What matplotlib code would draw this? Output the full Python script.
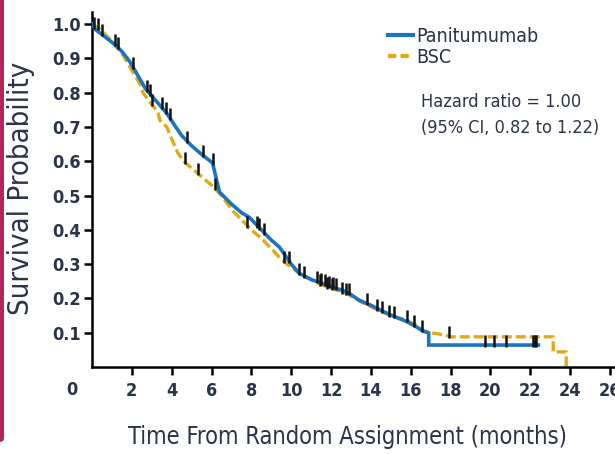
import numpy as np
import matplotlib
matplotlib.use("Agg")
import matplotlib.pyplot as plt
from matplotlib import font_manager
from matplotlib.font_manager import FontProperties
from matplotlib.lines import Line2D
from matplotlib.patches import FancyBboxPatch

# Kaplan-Meier curves (time in months, survival)
pani_t = [0.0, 0.15, 0.6, 1.15, 1.5, 1.9, 2.3, 2.7, 3.3, 3.75, 4.2, 4.5, 5.0, 5.5, 6.05,
          6.4, 7.0, 7.5, 7.9, 8.5, 9.0, 9.4, 10.0, 10.4, 11.0, 11.5, 12.05, 12.5, 12.9,
          13.4, 14.0, 14.5, 15.25, 15.7, 16.2, 16.6, 16.9, 16.9, 22.4]
pani_s = [1.0, 0.985, 0.965, 0.94, 0.92, 0.89, 0.85, 0.81, 0.77, 0.74, 0.70, 0.675, 0.645,
          0.62, 0.595, 0.51, 0.475, 0.45, 0.436, 0.40, 0.37, 0.35, 0.30, 0.273, 0.255,
          0.245, 0.233, 0.225, 0.215, 0.195, 0.18, 0.165, 0.145, 0.135, 0.12, 0.105,
          0.099, 0.064, 0.064]

bsc_t = [0.0, 0.4, 1.0, 1.55, 2.0, 2.4, 2.55, 3.0, 3.3, 3.4, 3.75, 4.0, 4.3, 4.6, 5.0,
         5.4, 6.0, 6.5, 7.05, 7.5, 8.0, 8.5, 9.0, 9.4, 10.0, 10.5, 11.0, 11.5, 12.0,
         12.75, 13.5, 14.4, 15.0, 15.75, 16.2, 16.55, 17.0, 17.75, 18.0, 23.15, 23.15,
         23.8, 23.8]
bsc_s = [1.0, 0.985, 0.95, 0.91, 0.865, 0.826, 0.80, 0.765, 0.745, 0.72, 0.70, 0.665,
         0.625, 0.60, 0.58, 0.56, 0.53, 0.50, 0.456, 0.43, 0.40, 0.375, 0.345, 0.32,
         0.29, 0.27, 0.255, 0.24, 0.23, 0.215, 0.19, 0.165, 0.15, 0.137, 0.125, 0.108,
         0.10, 0.093, 0.088, 0.088, 0.044, 0.044, 0.0]

# censored observations (months)
pani_cens = [0.1, 0.5, 1.15, 1.3, 2.05, 2.75, 2.9, 3.5, 3.7, 3.9, 4.75, 5.55, 6.05,
             8.3, 8.4, 8.65, 9.9, 10.65, 11.3, 11.5, 11.7, 11.9, 12.1, 12.25,
             12.9, 13.8, 14.55, 15.15, 16.15, 19.75, 20.2, 20.8, 22.15, 22.25, 22.3]
bsc_cens = [0.3, 3.0, 4.65, 5.3, 6.15, 7.8, 9.65, 10.4, 11.45, 11.8, 12.05, 12.55,
            12.75, 14.3, 14.9, 15.8, 16.55, 17.9]

x_ticks = list(range(2, 28, 2))
y_ticks = [0.1, 0.2, 0.3, 0.4, 0.5, 0.6, 0.7, 0.8, 0.9, 1.0]

blue = "#1b74c2"
gold = "#e3aa17"
txt = "#2b3348"


# the original uses a condensed sans; pick one if the machine has it
def narrow_font(bold):
    found = []
    for f in font_manager.fontManager.ttflist:
        nm = f.name + " " + str(f.stretch)
        if "Mono" in f.name or "Serif" in f.name:
            continue
        if not ("Narrow" in nm or "Condensed" in nm or "condensed" in nm):
            continue
        if f.style != "normal":
            continue
        w = f.weight if isinstance(f.weight, int) else (700 if "bold" in str(f.weight) else 400)
        found.append((abs(w - (700 if bold else 400)), f.fname))
    if found:
        found.sort()
        return found[0][1]
    return None


def fp(size, bold=False):
    path = narrow_font(bold)
    if path:
        return FontProperties(fname=path, size=size)
    return FontProperties(family=["Liberation Sans", "DejaVu Sans"], size=size,
                          weight="bold" if bold else "normal")


fig = plt.figure(figsize=(6.15, 4.54), dpi=100)
ax = fig.add_axes([92 / 615, 87 / 454, 523 / 615, 355 / 454])

ax.plot(pani_t, pani_s, color=blue, lw=2.6, solid_joinstyle="miter", zorder=3)
ax.plot(bsc_t, bsc_s, color=gold, lw=2.4, dashes=(3, 1.2), zorder=2)

ax.plot(pani_cens, np.interp(pani_cens, pani_t, pani_s) + 0.012, ls="none",
        marker="|", ms=9, mew=1.8, color="#111111", zorder=4)
ax.plot(bsc_cens, np.interp(bsc_cens, bsc_t, bsc_s) + 0.012, ls="none",
        marker="|", ms=9, mew=1.8, color="#111111", zorder=4)

ax.set_xlim(0, 26.25)
ax.set_ylim(0, 1.035)
ax.set_xticks(x_ticks)
ax.set_yticks(y_ticks)
ax.set_yticklabels([f"{v:.1f}" for v in y_ticks])
for s in ["top", "right"]:
    ax.spines[s].set_visible(False)
for s in ["left", "bottom"]:
    ax.spines[s].set_linewidth(1.8)
ax.tick_params(axis="both", direction="out", length=6, width=1.8, colors="black",
               labelcolor=txt)
ax.tick_params(axis="y", pad=2)
ax.tick_params(axis="x", pad=5)
tick_fp = fp(13, bold=True)
for lab in ax.get_yticklabels() + ax.get_xticklabels():
    lab.set_fontproperties(tick_fp)
ax.text(-1.0, -0.068, "0", ha="center", va="center", color=txt,
        fontproperties=tick_fp)

fig.text(21 / 615, 1 - 188 / 454, "Survival Probability", rotation=90, ha="center",
         va="center", color=txt, fontproperties=fp(21))
fig.text(348 / 615, 1 - 437 / 454, "Time From Random Assignment (months)",
         ha="center", va="center", color=txt, fontproperties=fp(17))

handles = [Line2D([], [], color=blue, lw=3),
           Line2D([], [], color=gold, lw=3, dashes=(2, 1))]
ax.legend(handles, ["Panitumumab", "BSC"], loc="upper left",
          bbox_to_anchor=(388 / 615, 1 - 27 / 454), bbox_transform=fig.transFigure,
          frameon=False, handlelength=1.3, handletextpad=0.15, borderpad=0,
          borderaxespad=0, labelspacing=0.1, prop=fp(14), labelcolor=txt)

fig.text(421 / 615, 1 - 102 / 454, "Hazard ratio = 1.00", ha="left", va="center",
         color=txt, fontproperties=fp(13))
fig.text(421 / 615, 1 - 128 / 454, "(95% CI, 0.82 to 1.22)", ha="left", va="center",
         color=txt, fontproperties=fp(13))

# crimson page edge on the left
fig.patches.append(FancyBboxPatch((-6 / 615, 12 / 454), 10 / 615, 460 / 454,
                                  boxstyle="round,pad=0,rounding_size=0.008",
                                  transform=fig.transFigure, color="#b3265c",
                                  lw=0, zorder=5))

fig.savefig("out.png", dpi=100)
